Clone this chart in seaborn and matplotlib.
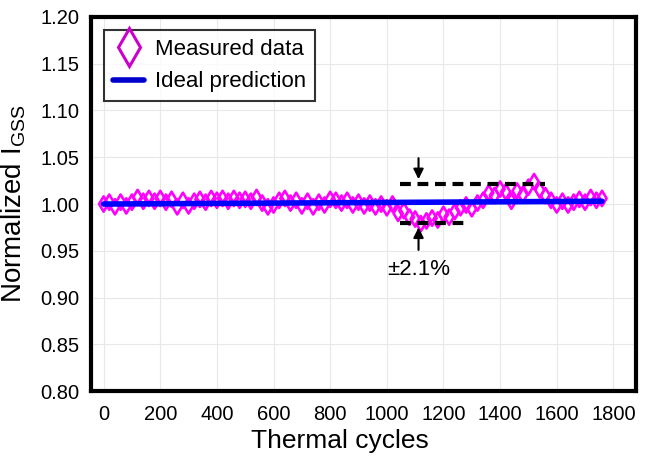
import matplotlib
matplotlib.use('agg')
import matplotlib.pyplot as plt
from matplotlib.lines import Line2D
import seaborn as sns
import pandas as pd

# thermal cycle counts and measured normalized IGSS
cycles = list(range(0, 1761, 20))
measured = [1.000, 1.002, 0.997, 1.002, 0.998, 1.002, 1.007, 1.003, 1.006, 1.003,
            1.006, 1.002, 1.005, 0.997, 1.004, 0.998, 1.003, 1.005, 1.002, 1.006,
            1.004, 1.006, 1.003, 1.006, 1.004, 1.005, 1.003, 1.007, 1.001, 0.997,
            0.999, 1.004, 1.006, 1.001, 1.004, 0.998, 1.003, 0.997, 1.002, 0.999,
            1.005, 1.004, 1.001, 1.004, 0.999, 1.002, 0.998, 1.001, 0.997, 1.000,
            0.996, 1.000, 0.990, 0.993, 0.986, 0.984, 0.979, 0.982, 0.985, 0.983,
            0.989, 0.986, 0.992, 0.996, 0.999, 0.995, 1.001, 1.004, 1.012, 1.009,
            1.016, 1.013, 1.003, 1.014, 1.010, 1.018, 1.024, 1.015, 1.009, 1.004,
            0.999, 1.003, 0.999, 1.002, 1.005, 1.002, 1.007, 1.004, 1.006]

ideal_cycles = [0, 1760]
ideal_values = [1.000, 1.003]

yticks = [0.80, 0.85, 0.90, 0.95, 1.00, 1.05, 1.10, 1.15, 1.20]
xticks = list(range(0, 1801, 200))

# band limits for the +/-2.1% annotation
band_hi = 1.0215
band_lo = 0.980

sns.set_style('whitegrid')
plt.rcParams['font.family'] = ['Liberation Sans', 'DejaVu Sans']
plt.rcParams['mathtext.fontset'] = 'custom'
plt.rcParams['mathtext.rm'] = 'Liberation Sans'
plt.rcParams['text.color'] = 'black'
plt.rcParams['axes.labelcolor'] = 'black'
plt.rcParams['xtick.color'] = 'black'
plt.rcParams['ytick.color'] = 'black'

df = pd.DataFrame({'cycles': cycles, 'value': measured})
ideal = pd.DataFrame({'cycles': ideal_cycles, 'value': ideal_values})

fig = plt.figure(figsize=(6.49, 4.58), dpi=100)
ax = fig.add_axes([0.140, 0.146, 0.840, 0.817])

sns.scatterplot(data=df, x='cycles', y='value', ax=ax, marker='d', s=60,
                facecolors='none', edgecolor='#ff00ff', linewidth=1.9, zorder=3)
sns.lineplot(data=ideal, x='cycles', y='value', ax=ax, color='#0000ff',
             linewidth=4, zorder=4)

# dashed band and arrows
ax.plot([1045, 1560], [band_hi, band_hi], ls=(0, (2.6, 1.6)), color='black', lw=3, zorder=5)
ax.plot([1045, 1295], [band_lo, band_lo], ls=(0, (2.6, 1.6)), color='black', lw=3, zorder=5)
ax.annotate('', xy=(1112, band_hi + 0.002), xytext=(1112, 1.052),
            arrowprops=dict(arrowstyle='-|>', color='black', lw=1.5, mutation_scale=15))
ax.annotate('', xy=(1112, band_lo - 0.002), xytext=(1112, 0.948),
            arrowprops=dict(arrowstyle='-|>', color='black', lw=1.5, mutation_scale=15))
ax.text(1112, 0.930, '\u00b12.1%', ha='center', va='center', fontsize=16)

ax.set_xlim(-45, 1880)
ax.set_ylim(0.80, 1.20)
ax.set_xticks(xticks)
ax.set_yticks(yticks)
ax.set_yticklabels([f'{v:.2f}' for v in yticks])
ax.tick_params(labelsize=14.5, length=4, width=1, direction='out', color='#888888', pad=4)
ax.tick_params(axis='x', pad=6)
ax.set_xlabel('Thermal cycles', fontsize=19)
ax.set_ylabel(r'Normalized I$_{\mathrm{GSS}}$', fontsize=20)
ax.xaxis.set_label_coords(0.457, -0.10)
ax.yaxis.set_label_coords(-0.115, 0.5)
ax.grid(color='#e8e8e8', linewidth=0.8)
for sp in ax.spines.values():
    sp.set_color('black')
    sp.set_linewidth(3)

handles = [Line2D([], [], marker='d', ls='none', markersize=19, markerfacecolor='none',
                  markeredgecolor='#cc00cc', markeredgewidth=2.2),
           Line2D([], [], color='#0000cc', lw=4)]
leg = ax.legend(handles, ['Measured data', 'Ideal prediction'], loc='upper left',
                fontsize=16, frameon=True, fancybox=False, edgecolor='black',
                handlelength=1.4, borderaxespad=0.6, handletextpad=0.5,
                labelspacing=0.5, borderpad=0.4)
leg.get_frame().set_linewidth(1.5)

plt.savefig('out.png', dpi=100)
